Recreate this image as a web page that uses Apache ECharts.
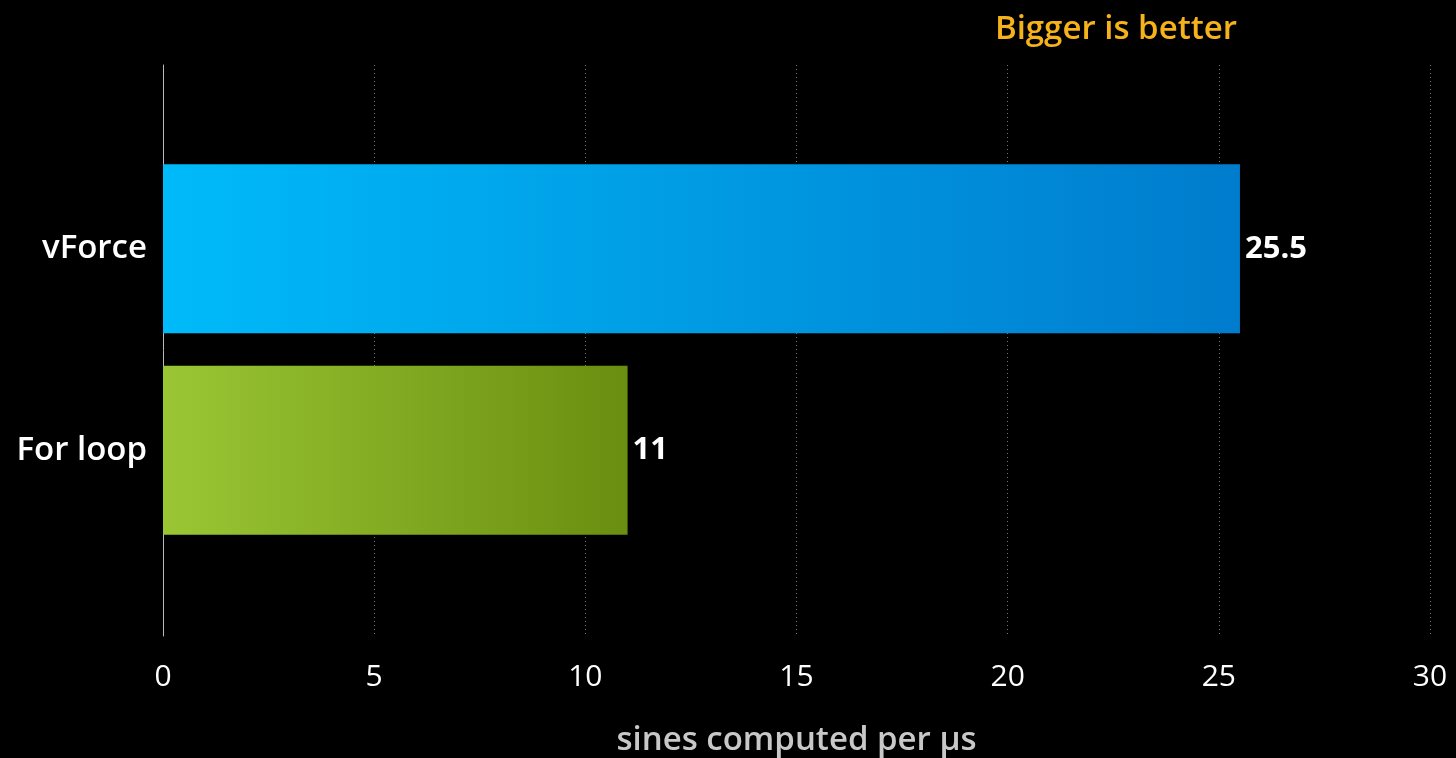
<!DOCTYPE html>
<html>
<head>
<meta charset="utf-8">
<script src="https://cdn.jsdelivr.net/npm/echarts@6/dist/echarts.min.js"></script>
<style>
  html, body { margin: 0; padding: 0; background: #000; }
  #chart { width: 1456px; height: 758px; }
</style>
</head>
<body>
<div id="chart"></div>
<script>
// bottom to top, as the category axis draws them
var categories = ['For loop', 'vForce'];
var values = [11, 25.5];
var barColors = [['#9ac634', '#6a8e10'], ['#00baf9', '#007ccd']];
var xTicks = [0, 5, 10, 15, 20, 25, 30];

var font = '"Open Sans", sans-serif';
var myChart = echarts.init(document.getElementById('chart'));

var barData = values.map(function (v, i) {
    return {
        value: v,
        itemStyle: {
            color: new echarts.graphic.LinearGradient(0, 0, 1, 0, [
                { offset: 0, color: barColors[i][0] },
                { offset: 1, color: barColors[i][1] }
            ])
        }
    };
});

myChart.setOption({
    backgroundColor: '#000',
    title: {
        text: 'Bigger is better',
        right: 214,
        top: 8,
        textStyle: { color: '#f5b21b', fontFamily: font, fontSize: 33, fontWeight: 600 }
    },
    grid: [
        // frame: axis line, dotted grid, tick labels
        { left: 163, right: 26, top: 65, bottom: 122, outerBoundsMode: 'none', containLabel: false },
        // bars, placed so the two bands sit where the picture has them
        { left: 163, right: 26, top: 148, bottom: 207, outerBoundsMode: 'none', containLabel: false }
    ],
    xAxis: [
        {
            gridIndex: 0,
            type: 'value',
            min: xTicks[0],
            max: xTicks[xTicks.length - 1],
            interval: 5,
            name: 'sines computed per µs',
            nameLocation: 'middle',
            nameGap: 88,
            nameTextStyle: { color: '#c8c8c8', fontFamily: font, fontSize: 33, fontWeight: 600 },
            axisLine: { show: false },
            axisTick: { show: false },
            axisLabel: { color: '#fff', fontFamily: font, fontSize: 30, margin: 26 },
            splitLine: { lineStyle: { color: '#777', type: [1, 3], width: 1 } }
        },
        {
            gridIndex: 1,
            type: 'value',
            min: 0,
            max: 30,
            show: false
        }
    ],
    yAxis: [
        {
            gridIndex: 0,
            type: 'category',
            data: [''],
            axisLine: { show: true, lineStyle: { color: '#bbb', width: 1 } },
            axisTick: { show: false },
            axisLabel: { show: false }
        },
        {
            gridIndex: 1,
            type: 'category',
            data: categories,
            axisLine: { show: false },
            axisTick: { show: false },
            axisLabel: { color: '#fff', fontFamily: font, fontSize: 33, fontWeight: 600, margin: 16 }
        }
    ],
    series: [
        {
            type: 'bar',
            xAxisIndex: 1,
            yAxisIndex: 1,
            barWidth: 169,
            data: barData,
            label: {
                show: true,
                position: 'right',
                distance: 5,
                color: '#fff',
                fontFamily: font,
                fontSize: 31,
                fontWeight: 'bold'
            }
        }
    ]
});
</script>
</body>
</html>
